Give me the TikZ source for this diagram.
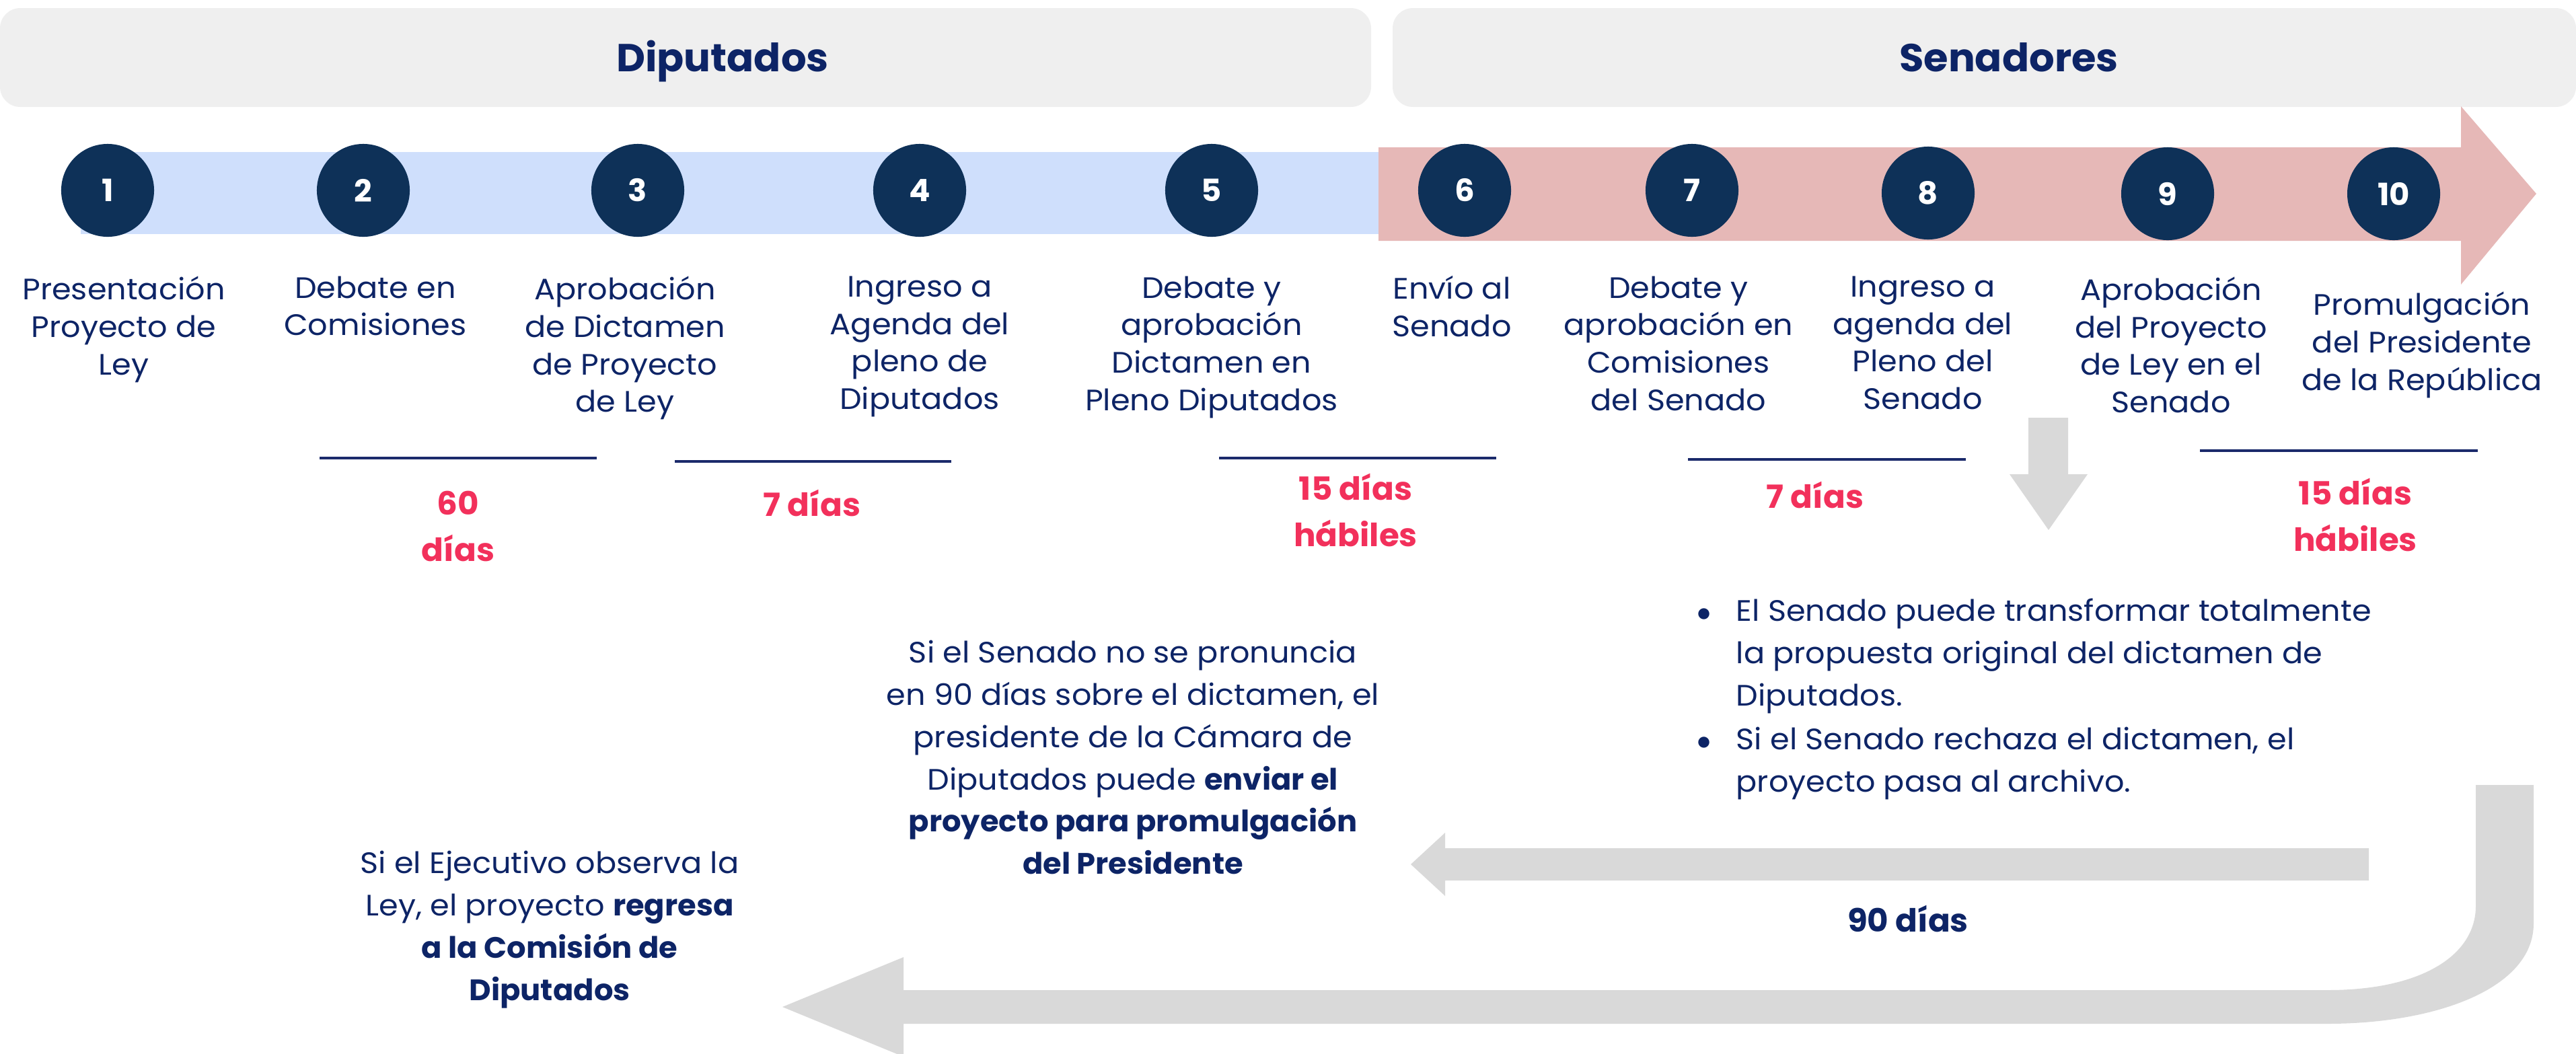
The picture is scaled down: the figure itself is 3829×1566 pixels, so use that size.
\documentclass[tikz,border=0pt]{standalone}
\usepackage{fontspec}
\setmainfont{Poppins}[FakeStretch=1.05,BoldFeatures={FakeStretch=1.02}]
\usepackage{tikz}
\usetikzlibrary{positioning}
\definecolor{azul}{HTML}{0E3158}
\definecolor{tinta}{HTML}{0D2466}
\definecolor{celeste}{HTML}{CFDFFC}
\definecolor{rosa}{HTML}{E6B8B7}
\definecolor{gris}{HTML}{EFEFEF}
\definecolor{grisf}{HTML}{D9D9D9}
\definecolor{rojo}{HTML}{F2305B}
\definecolor{raya}{HTML}{1B2A6B}

\begin{document}
\begin{tikzpicture}[x=0.01cm,y=-0.01cm,
    num/.style={circle,fill=azul,text=white,minimum size=1.38cm,inner sep=0,font=\fontsize{13}{15}\selectfont\bfseries},
    etiq/.style={align=center,inner sep=0,text=tinta,anchor=north,font=\fontsize{12.5}{15.9}\selectfont,execute at begin node={\rule{0pt}{14.3pt}}},
    nota/.style={align=center,inner sep=0,text=tinta,anchor=north,font=\fontsize{12.5}{17.9}\selectfont,execute at begin node={\rule{0pt}{14.3pt}}},
    plazo/.style={align=center,inner sep=0,text=rojo,anchor=north,font=\fontsize{13.5}{19.6}\selectfont\bfseries,execute at begin node={\rule{0pt}{15.5pt}}},
    titulo/.style={inner sep=0,text=tinta,anchor=base,font=\fontsize{16.5}{20}\selectfont\bfseries},
    regla/.style={draw=raya,line width=0.045cm}]
  \useasboundingbox (0,0) rectangle (3829,1566);
  \fill[gris,rounded corners=0.3cm] (0,12) rectangle (2038,159);
  \fill[gris,rounded corners=0.3cm] (2070,12) rectangle (3829,159);
  \node[titulo] (D) at (1074,106) {Diputados};
  \node[titulo] (S) at (2986,106) {Senadores};
  \fill[celeste] (120,226) rectangle (2049,348);
  \fill[rosa] (2049,219) -- (3658,219) -- (3658,158) -- (3770,288) -- (3658,423) -- (3658,358) -- (2049,358) -- cycle;
  \foreach \n/\x/\y in {1/160/283,2/540/283,3/948/283,4/1367/283,5/1801/283,
      6/2177/283,7/2515/283,8/2866/287,9/3222/288,10/3558/288}
    \node[num] (c\n) at (\x,\y) {\n};
  \node[etiq,below=0.57cm of c1,xshift=0.24cm] (e1) {Presentación\\Proyecto de\\Ley};
  \node[etiq,below=0.57cm of c2,xshift=0.18cm] (e2) {Debate en\\Comisiones};
  \node[etiq,below=0.57cm of c3,xshift=-0.19cm] (e3) {Aprobación\\de Dictamen\\de Proyecto\\de Ley};
  \node[etiq,below=0.57cm of c4] (e4) {Ingreso a\\Agenda del\\pleno de\\Diputados};
  \node[etiq,below=0.57cm of c5] (e5) {Debate y\\aprobación\\Dictamen en\\Pleno Diputados};
  \node[etiq,below=0.57cm of c6,xshift=-0.19cm] (e6) {Envío al\\Senado};
  \node[etiq,below=0.57cm of c7,xshift=-0.2cm] (e7) {Debate y\\aprobación en\\Comisiones\\del Senado};
  \node[etiq,below=0.53cm of c8,xshift=-0.08cm] (e8) {Ingreso a\\agenda del\\Pleno del\\Senado};
  \node[etiq,below=0.53cm of c9,xshift=0.05cm] (e9) {Aprobación\\del Proyecto\\de Ley en el\\Senado};
  \node[etiq,below=0.75cm of c10,xshift=0.42cm] (e10) {Promulgación\\del Presidente\\de la República};
  \foreach \a/\b/\y in {475/887/681,1003/1414/686,1812/2224/681,2509/2922/683,3270/3683/670}
    \draw[regla] (\a,\y) -- (\b,\y);
  \node[plazo] (p1) at (681,729) {60\\días};
  \node[plazo] (p2) at (1207,712) {7 días};
  \node[plazo] (p3) at (2015,703) {15 días\\hábiles};
  \node[plazo] (p4) at (2698,700) {7 días};
  \node[plazo] (p5) at (3501,710) {15 días\\hábiles};
  \fill[grisf] (3015,621) -- (3074,621) -- (3074,705) -- (3103,705) -- (3045,788) -- (2987,705) -- (3015,705) -- cycle;
  \node[nota,anchor=north west,align=left] (b1) at (2580,889) {\llap{$\bullet$\hspace{0.37cm}}El Senado puede transformar totalmente\\la propuesta original del dictamen de\\Diputados.};
  \node[nota,anchor=north west,align=left] (b2) at (2580,1080) {\llap{$\bullet$\hspace{0.37cm}}Si el Senado rechaza el dictamen, el\\proyecto pasa al archivo.};
  \node[nota] (m) at (1684,951) {Si el Senado no se pronuncia\\en 90 días sobre el dictamen, el\\presidente de la Cámara de\\Diputados puede \textbf{enviar el}\\\textbf{proyecto para promulgación}\\\textbf{del Presidente}};
  \node[nota] (l) at (817,1264) {Si el Ejecutivo observa la\\Ley, el proyecto \textbf{regresa}\\\textbf{a la Comisión de}\\\textbf{Diputados}};
  \fill[grisf] (3521,1261) -- (2148,1261) -- (2148,1238) -- (2097,1285) -- (2148,1332) -- (2148,1309) -- (3521,1309) -- cycle;
  \node[plazo,text=tinta] (n) at (2836,1330) {90 días};
  \fill[grisf] (3680,1167) -- (3766,1167) -- (3766,1373) .. controls (3766,1470) and (3620,1522) .. (3460,1522)
    -- (1343,1522) -- (1343,1571) -- (1163,1497) -- (1343,1423) -- (1343,1472) -- (3460,1472)
    .. controls (3600,1472) and (3680,1420) .. (3680,1347) -- cycle;
\end{tikzpicture}
\end{document}
